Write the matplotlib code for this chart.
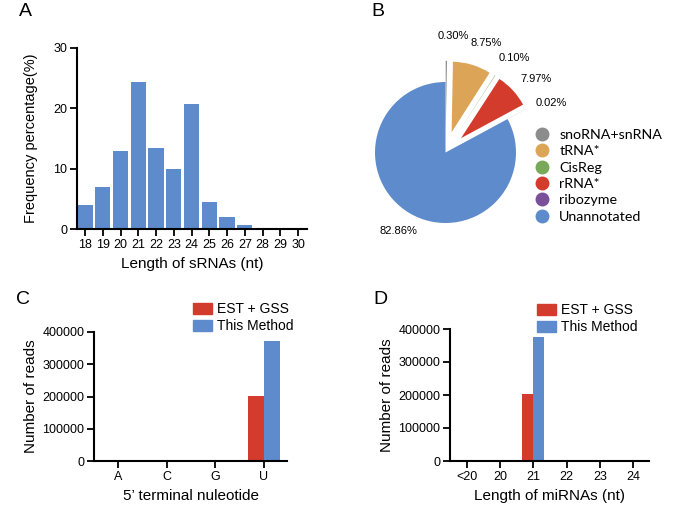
import matplotlib
matplotlib.use('Agg')
import matplotlib.pyplot as plt
import numpy as np
from matplotlib.lines import Line2D
from matplotlib.patches import Patch

plt.rcParams['font.family'] = ['Liberation Sans', 'DejaVu Sans']

# --- data ---
# A: length distribution of sRNAs
srna_lengths = ['18', '19', '20', '21', '22', '23', '24', '25', '26', '27', '28', '29', '30']
srna_freq = [4.0, 6.9, 13.0, 24.4, 13.5, 9.95, 20.7, 4.4, 2.0, 0.6, 0.08, 0.05, 0.05]

# B: annotation of sRNAs
pie_labels = ['snoRNA+snRNA', 'tRNA*', 'CisReg', 'rRNA*', 'ribozyme', 'Unannotated']
pie_pct = [0.30, 8.75, 0.10, 7.97, 0.02, 82.86]
pie_colors = ['#8c8c8c', '#dca456', '#78a85a', '#d33b2c', '#7a509a', '#5e8bcb']

# C: 5' terminal nucleotide of miRNAs
nucleotides = ['A', 'C', 'G', 'U']
est_gss_nt = [0, 0, 0, 202000]
this_method_nt = [800, 3000, 500, 372000]

# D: length of miRNAs
mirna_lengths = ['<20', '20', '21', '22', '23', '24']
est_gss_len = [0, 0, 203000, 0, 0, 0]
this_method_len = [400, 400, 377000, 800, 3000, 500]

bar_blue = '#5e8bcb'
bar_red = '#d33b2c'

W, H = 699, 514
fig = plt.figure(figsize=(W / 100, H / 100), dpi=100)


def px_axes(left, top, right, bottom):
    # axes placed by pixel box (origin top-left)
    return fig.add_axes([left / W, 1 - bottom / H, (right - left) / W, (bottom - top) / H])


def style_axes(ax):
    for side in ['top', 'right']:
        ax.spines[side].set_visible(False)
    for side in ['left', 'bottom']:
        ax.spines[side].set_linewidth(1.5)
    ax.tick_params(width=1.3, length=5, labelsize=9, pad=2)


def panel_letter(x, y, letter):
    fig.text(x / W, 1 - y / H, letter, fontsize=14, ha='center', va='center')


# ---------- A ----------
ax_a = px_axes(77, 48, 307, 229)
xa = np.arange(len(srna_lengths))
ax_a.bar(xa, srna_freq, width=0.86, color=bar_blue)
ax_a.set_xlim(-0.45, 12.5)
ax_a.set_ylim(0, 30)
ax_a.set_yticks([0, 10, 20, 30])
ax_a.set_xticks(xa)
ax_a.set_xticklabels(srna_lengths)
style_axes(ax_a)
ax_a.set_ylabel('Frequency percentage(%)', fontsize=10.5, va='center')
ax_a.yaxis.set_label_coords((31 - 77) / 230, 0.5)
ax_a.set_xlabel('Length of sRNAs (nt)', fontsize=11, va='center')
ax_a.xaxis.set_label_coords(0.5, -(264 - 229) / 181)
panel_letter(25, 12, 'A')

# ---------- B ----------
cx, cy, r, k = 445.5, 152.5, 70.5, 1.8
ax_b = px_axes(cx - k * r, cy - k * r, cx + k * r, cy + k * r)
explode = [0.3, 0.3, 0.3, 0.3, 0.3, 0]
wedges, _ = ax_b.pie(pie_pct, explode=explode, colors=pie_colors, startangle=90,
                     counterclock=False, wedgeprops=dict(linewidth=0))
ax_b.set_xlim(-k, k)
ax_b.set_ylim(-k, k)
ax_b.axis('off')

# percentage labels sit outside the wedges
for w, pct, ex in zip(wedges, pie_pct, explode):
    mid = (w.theta1 + w.theta2) / 2
    if ex > 0:
        ang, dist = np.radians(mid - 3.5), 1.66
    else:
        ang, dist = np.radians(mid), 1.3
    ax_b.text(dist * np.cos(ang), dist * np.sin(ang), f'{pct:.2f}%',
              ha='center', va='center', fontsize=8)

legend_handles = [Line2D([], [], marker='o', linestyle='', markersize=9,
                         markerfacecolor=c, markeredgecolor=c) for c in pie_colors]
fig.legend(legend_handles, pie_labels, loc='upper left',
           bbox_to_anchor=(535 / W, 1 - 129 / H), frameon=False,
           prop={'family': 'Lato', 'size': 10.3}, handlelength=1.0,
           handletextpad=0.7, labelspacing=0.3, borderpad=0, borderaxespad=0)
panel_letter(378, 11, 'B')

# ---------- C ----------
ax_c = px_axes(94, 332, 287, 461)
xc = np.arange(len(nucleotides))
bw = 0.33
ax_c.bar(xc - bw / 2, est_gss_nt, width=bw, color=bar_red)
ax_c.bar(xc + bw / 2, this_method_nt, width=bw, color=bar_blue)
ax_c.set_xlim(-0.5, 3.48)
ax_c.set_ylim(0, 400000)
ax_c.set_yticks([0, 100000, 200000, 300000, 400000])
ax_c.set_xticks(xc)
ax_c.set_xticklabels(nucleotides)
style_axes(ax_c)
ax_c.set_ylabel('Number of reads', fontsize=11, va='center')
ax_c.yaxis.set_label_coords((31 - 94) / 193, 0.5)
ax_c.set_xlabel('5\u2019 terminal nuleotide', fontsize=11, va='center')
ax_c.xaxis.set_label_coords(0.5, -(496 - 461) / 129)
leg_handles = [Patch(color=bar_red), Patch(color=bar_blue)]
ax_c.legend(leg_handles, ['EST + GSS', 'This Method'], loc='upper left',
            bbox_to_anchor=(193 / W, 1 - 302 / H), bbox_transform=fig.transFigure,
            frameon=False, fontsize=10, handlelength=1.37, handleheight=0.86,
            handletextpad=0.35, labelspacing=0.25, borderpad=0, borderaxespad=0)
panel_letter(23, 299, 'C')

# ---------- D ----------
ax_d = px_axes(450, 329, 649, 461)
xd = np.arange(len(mirna_lengths))
ax_d.bar(xd - bw / 2, est_gss_len, width=bw, color=bar_red)
ax_d.bar(xd + bw / 2, this_method_len, width=bw, color=bar_blue)
ax_d.set_xlim(-0.51, 5.48)
ax_d.set_ylim(0, 400000)
ax_d.set_yticks([0, 100000, 200000, 300000, 400000])
ax_d.set_xticks(xd)
ax_d.set_xticklabels(mirna_lengths)
style_axes(ax_d)
ax_d.set_ylabel('Number of reads', fontsize=11, va='center')
ax_d.yaxis.set_label_coords((387 - 450) / 199, 0.5)
ax_d.set_xlabel('Length of miRNAs (nt)', fontsize=11, va='center')
ax_d.xaxis.set_label_coords(0.5, -(496 - 461) / 132)
ax_d.legend(leg_handles, ['EST + GSS', 'This Method'], loc='upper left',
            bbox_to_anchor=(537 / W, 1 - 303 / H), bbox_transform=fig.transFigure,
            frameon=False, fontsize=10, handlelength=1.37, handleheight=0.86,
            handletextpad=0.35, labelspacing=0.25, borderpad=0, borderaxespad=0)
panel_letter(380, 300, 'D')

fig.savefig('out.png', dpi=100)
